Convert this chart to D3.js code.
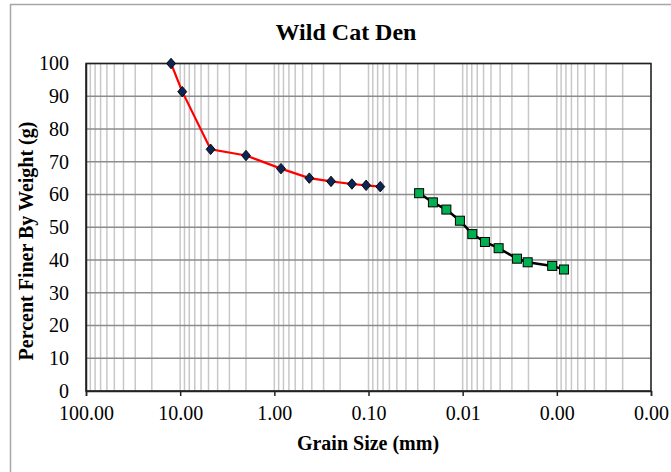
<!DOCTYPE html>
<html><head><meta charset="utf-8">
<script src="https://cdn.jsdelivr.net/npm/d3@7"></script>
<style>html,body{margin:0;padding:0;background:#fff;}svg{display:block;}</style>
</head><body>
<script>
const title = "Wild Cat Den";
const xTitle = "Grain Size (mm)";
const yTitle = "Percent Finer By Weight (g)";
// Sieve analysis
const sieveSize = [12.5, 9.5, 4.75, 2.0, 0.85, 0.425, 0.25, 0.15, 0.106, 0.075];
const sievePct  = [100, 91.4, 73.8, 71.9, 67.9, 65.0, 64.0, 63.2, 62.8, 62.4];
// Hydrometer analysis
const hydroSize = [0.029, 0.0207, 0.0149, 0.0107, 0.0079, 0.0058, 0.00415, 0.00265, 0.00204, 0.00112, 0.00084];
const hydroPct  = [60.4, 57.6, 55.4, 52.0, 47.9, 45.5, 43.6, 40.4, 39.3, 38.2, 37.1];
const xTicks = [100, 10, 1, 0.1, 0.01, 0.001, 0.0001];
const yTicks = [0,10,20,30,40,50,60,70,80,90,100];

const FONT = "'Liberation Serif', 'Times New Roman', serif";
const W = 671, H = 472;
const svg = d3.select("body").append("svg").attr("width", W).attr("height", H);
const L = 86, R = 651, T = 63.5, B = 391;
const x = d3.scaleLog().domain([100, 0.0001]).range([L, R]);
const y = d3.scaleLinear().domain([0, 100]).range([B, T]);

// outer chart frame
svg.append("rect").attr("x", 10.5).attr("y", 4.5).attr("width", 700).attr("height", 500)
  .attr("fill", "#fff").attr("stroke", "#a6a6a6").attr("stroke-width", 1.5);

// vertical grid (log minors)
svg.append("g").selectAll("line").data(x.ticks()).join("line")
  .attr("x1", d => x(d)).attr("x2", d => x(d)).attr("y1", T).attr("y2", B)
  .attr("stroke", "#c8c8c8").attr("stroke-width", 1.5);
// horizontal grid
svg.append("g").selectAll("line").data(yTicks).join("line")
  .attr("x1", L).attr("x2", R).attr("y1", d => y(d)).attr("y2", d => y(d))
  .attr("stroke", "#8c8c8c").attr("stroke-width", 1.5);

// plot frame
svg.append("rect").attr("x", L).attr("y", T).attr("width", R - L).attr("height", B - T)
  .attr("fill", "none").attr("stroke", "#222").attr("stroke-width", 1.5);

// axes
const xAxis = svg.append("g").attr("transform", `translate(0,${B})`)
  .call(d3.axisBottom(x).tickValues(xTicks).tickFormat(d3.format(".2f")).tickSize(5).tickPadding(10));
xAxis.select(".domain").attr("stroke", "#222").attr("stroke-width", 1.5);
xAxis.selectAll(".tick line").attr("stroke", "#222").attr("stroke-width", 1.5);
xAxis.selectAll("text").attr("fill", "#000").style("font-family", FONT).style("font-size", "20px");

const yAxis = svg.append("g").attr("transform", `translate(${L},0)`)
  .call(d3.axisLeft(y).tickValues(yTicks).tickSize(0).tickPadding(17));
yAxis.select(".domain").attr("stroke", "#222").attr("stroke-width", 1.5);
yAxis.selectAll("text").attr("fill", "#000").style("font-family", FONT).style("font-size", "20px");

// titles
svg.append("text").attr("x", 346).attr("y", 40).attr("text-anchor", "middle")
  .style("font-family", FONT).style("font-size", "24px").style("font-weight", "bold").text(title);
svg.append("text").attr("x", 368).attr("y", 450).attr("text-anchor", "middle")
  .style("font-family", FONT).style("font-size", "20px").style("font-weight", "bold").text(xTitle);
svg.append("text").attr("transform", "translate(33,241) rotate(-90)").attr("text-anchor", "middle")
  .style("font-family", FONT).style("font-size", "20px").style("font-weight", "bold").text(yTitle);

// series
const sieve = sieveSize.map((s, i) => [s, sievePct[i]]);
const hydro = hydroSize.map((s, i) => [s, hydroPct[i]]);
const line = d3.line().x(d => x(d[0])).y(d => y(d[1]));
svg.append("path").datum(sieve).attr("d", line).attr("fill", "none")
  .attr("stroke", "#ff0000").attr("stroke-width", 2.2);
svg.append("g").selectAll("path").data(sieve).join("path")
  .attr("d", d3.symbol(d3.symbolDiamond2, 70))
  .attr("transform", d => `translate(${x(d[0])},${y(d[1])}) scale(0.85,1)`)
  .attr("fill", "#0d2456").attr("stroke", "#000").attr("stroke-width", 1);

svg.append("path").datum(hydro).attr("d", line).attr("fill", "none")
  .attr("stroke", "#000").attr("stroke-width", 2.5);
svg.append("g").selectAll("rect").data(hydro).join("rect")
  .attr("x", d => x(d[0]) - 4.5).attr("y", d => y(d[1]) - 4.5)
  .attr("width", 9).attr("height", 9)
  .attr("fill", "#00b050").attr("stroke", "#000").attr("stroke-width", 1);
</script>
</body></html>
